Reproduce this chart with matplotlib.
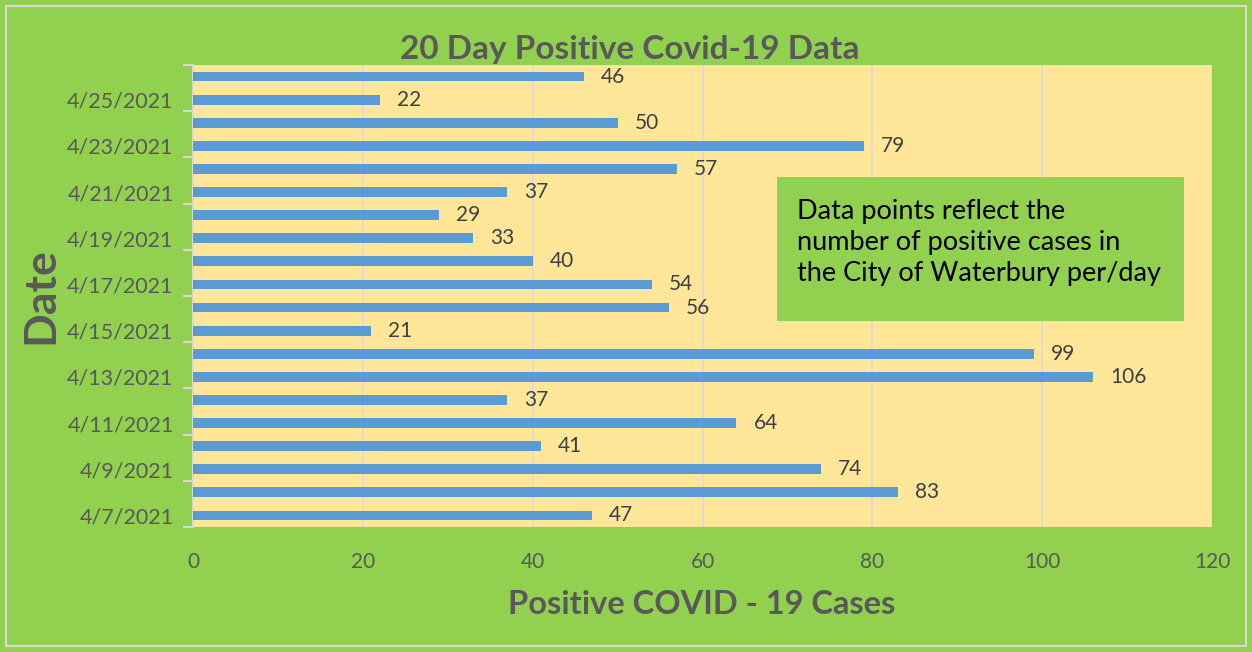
import numpy as np
import matplotlib.pyplot as plt
from matplotlib.patches import Rectangle

dates = ["4/7/2021", "4/8/2021", "4/9/2021", "4/10/2021", "4/11/2021",
         "4/12/2021", "4/13/2021", "4/14/2021", "4/15/2021", "4/16/2021",
         "4/17/2021", "4/18/2021", "4/19/2021", "4/20/2021", "4/21/2021",
         "4/22/2021", "4/23/2021", "4/24/2021", "4/25/2021", "4/26/2021"]
cases = [47, 83, 74, 41, 64, 37, 106, 99, 21, 56,
         54, 40, 33, 29, 37, 57, 79, 50, 22, 46]
xticks = [0, 20, 40, 60, 80, 100, 120]

plt.rcParams['font.family'] = ['Lato', 'DejaVu Sans']

W, H = 1252, 652
fig = plt.figure(figsize=(W / 100, H / 100), dpi=100)
fig.patch.set_facecolor("#92D050")
fig.patches.append(Rectangle((6 / W, 6 / H), 1 - 12 / W, 1 - 12 / H,
                             transform=fig.transFigure, fill=False,
                             edgecolor="#D9D9D9", lw=1.5))

ax = fig.add_axes([193 / W, 1 - 527 / H, (1212 - 193) / W, (527 - 65) / H])
ax.set_facecolor("#FFE699")

y = np.arange(len(dates))
ax.barh(y, cases, height=0.42, color="#5B9BD5", zorder=3)
for yi, v in zip(y, cases):
    ax.text(v + 2, yi, str(v), va="center", ha="left", fontsize=15,
            color="#404040", zorder=4)

ax.set_xlim(0, 120)
ax.set_ylim(-0.5, len(dates) - 0.5)
ax.set_xticks(xticks)
ax.set_xticklabels([str(t) for t in xticks], fontsize=15, color="#595959")
ax.tick_params(axis="x", length=0, pad=18)
ax.grid(axis="x", color="#D9D9D9", lw=1.2, zorder=1)

ax.set_yticks(y[::2])
ax.set_yticklabels(dates[::2], fontsize=15.5, color="#595959")
ax.set_yticks(np.arange(-0.5, len(dates), 2), minor=True)
ax.tick_params(axis="y", which="major", length=0, pad=14)
ax.tick_params(axis="y", which="minor", length=7, color="#D9D9D9", width=1.5)

for s in ["top", "right", "bottom"]:
    ax.spines[s].set_visible(False)
ax.spines["left"].set_color("#D9D9D9")
ax.spines["left"].set_linewidth(1.5)

fig.text(630 / W, 1 - 50 / H, "20 Day Positive Covid-19 Data", ha="center",
         va="center", fontsize=24, fontweight="bold", color="#595959")
fig.text(702 / W, 1 - 604 / H, "Positive COVID - 19 Cases", ha="center",
         va="center", fontsize=23.5, fontweight="bold", color="#595959")
fig.text(40 / W, 1 - 296 / H, "Date", ha="center", va="center", rotation=90,
         fontsize=32, fontweight="bold", color="#595959")

fig.patches.append(Rectangle((777 / W, 1 - 321 / H), (1184 - 777) / W,
                             (321 - 177) / H, transform=fig.transFigure,
                             facecolor="#92D050", edgecolor="none", zorder=5))
fig.text(797 / W, 1 - 242 / H,
         "Data points reflect the\nnumber of positive cases in\nthe City of Waterbury per/day",
         ha="left", va="center", fontsize=19.5, color="black",
         linespacing=1.3, zorder=6)

fig.savefig("out.png", dpi=100, facecolor=fig.get_facecolor())
